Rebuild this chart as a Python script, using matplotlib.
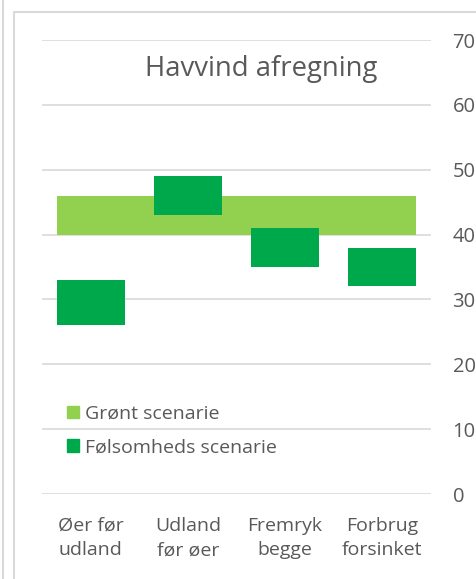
import numpy as np
import matplotlib
matplotlib.use('Agg')
import matplotlib.pyplot as plt
import matplotlib.transforms as mtransforms
from matplotlib.lines import Line2D
from matplotlib.patches import Patch

# data
categories = ['Øer før\nudland', 'Udland\nfør øer', 'Fremryk\nbegge', 'Forbrug\nforsinket']
groent_low = [40, 40, 40, 40]
groent_high = [46, 46, 46, 46]
folsom_low = [26, 43, 35, 32]
folsom_high = [33, 49, 41, 38]
yticks = [0, 10, 20, 30, 40, 50, 60, 70]

light_green = '#92D050'
dark_green = '#00A84C'
text_col = '#595959'
grid_col = '#D9D9D9'

plt.rcParams['font.family'] = ['Open Sans', 'DejaVu Sans']

W, H = 477, 579
fig = plt.figure(figsize=(W / 100, H / 100), dpi=100)
ax = fig.add_axes([42 / W, 1 - 494 / H, (431 - 42) / W, (494 - 40) / H])

x = np.arange(len(categories))
bw = 0.7

# light green band: continuous across categories
edges_l = x - 0.5
edges_r = x + 0.5
edges_l[0] = x[0] - bw / 2
edges_r[-1] = x[-1] + bw / 2
for i in range(len(x)):
    ax.bar(edges_l[i], groent_high[i] - groent_low[i], bottom=groent_low[i],
           width=edges_r[i] - edges_l[i], align='edge', color=light_green, zorder=2)

ax.bar(x, np.array(folsom_high) - np.array(folsom_low), bottom=folsom_low,
       width=bw, color=dark_green, zorder=3)

ax.set_xlim(-0.5, len(categories) - 0.5)
ax.set_ylim(0, 70)
ax.set_yticks(yticks)
ax.yaxis.tick_right()
ax.grid(axis='y', color=grid_col, linewidth=1.2, zorder=0)
ax.set_axisbelow(True)
for s in ax.spines.values():
    s.set_visible(False)
ax.tick_params(axis='y', length=0, pad=15.5, labelsize=14.5, labelcolor=text_col)
ax.set_xticks(x)
ax.set_xticklabels(categories, fontsize=14, color=text_col, linespacing=1.45)
ax.tick_params(axis='x', length=0, pad=16.5)

trans = mtransforms.blended_transform_factory(ax.transAxes, ax.transData)
ax.text(0.563, 64.4, 'Havvind afregning', transform=trans,
        ha='center', va='baseline', fontsize=19.8, color=text_col)

handles = [Patch(color=light_green, label='Grønt scenarie'),
           Patch(color=dark_green, label='Følsomheds scenarie')]
leg = ax.legend(handles=handles, loc='upper left',
                bbox_to_anchor=(67 / W, 1 - 405 / H), bbox_transform=fig.transFigure,
                frameon=False, fontsize=14, handlelength=0.62, handleheight=0.62,
                handletextpad=0.33, labelspacing=0.78, labelcolor=text_col,
                borderpad=0, borderaxespad=0)

# chart frame lines
fig.add_artist(Line2D([14 / W, 14 / W, 1], [0, 1 - 12 / H, 1 - 12 / H],
                      color=grid_col, linewidth=1.5))
fig.add_artist(Line2D([3 / W, 3 / W], [0, 1], color=grid_col, linewidth=1.5))

fig.savefig('out.png', dpi=100)
